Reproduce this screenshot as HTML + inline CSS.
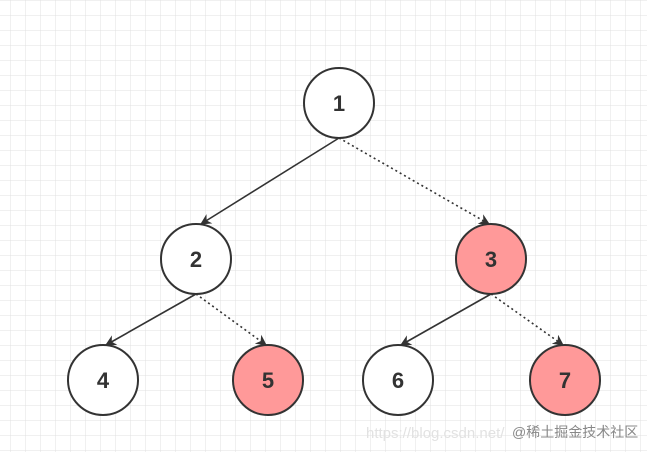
<!DOCTYPE html>
<html><head><meta charset="utf-8"><style>
html,body{margin:0;padding:0;background:#fff}
svg{display:block}
</style></head><body>
<svg width="647" height="452" viewBox="0 0 647 452" xmlns="http://www.w3.org/2000/svg">
<defs>
<pattern id="g" width="15" height="15" patternUnits="userSpaceOnUse" x="10" y="0">
<path d="M0 0H15M0 0V15" fill="none" stroke="#e0e0e0" stroke-width="1"/>
</pattern>
<marker id="a" viewBox="0 0 10 10" refX="9" refY="5" markerWidth="13" markerHeight="11" markerUnits="userSpaceOnUse" orient="auto">
<path d="M0 0L10 5L0 10L3 5z" fill="#333"/>
</marker>
</defs>
<rect width="647" height="452" fill="url(#g)"/>
<g stroke="#333" stroke-width="1.6" fill="none">
<line x1="339" y1="138" x2="201" y2="224" marker-end="url(#a)"/>
<line x1="339" y1="138" x2="489" y2="224" stroke-dasharray="2,3" marker-end="url(#a)"/>
<line x1="196" y1="294" x2="106" y2="345" marker-end="url(#a)"/>
<line x1="196" y1="294" x2="266" y2="345" stroke-dasharray="2,3" marker-end="url(#a)"/>
<line x1="491" y1="294" x2="401" y2="345" marker-end="url(#a)"/>
<line x1="491" y1="294" x2="563" y2="345" stroke-dasharray="2,3" marker-end="url(#a)"/>
</g>
<g stroke="#333" stroke-width="2">
<circle cx="339" cy="103" r="35" fill="#fff"/>
<circle cx="196" cy="259" r="35" fill="#fff"/>
<circle cx="491" cy="259" r="35" fill="#ff9999"/>
<circle cx="103" cy="380" r="35" fill="#fff"/>
<circle cx="268" cy="380" r="35" fill="#ff9999"/>
<circle cx="398" cy="380" r="35" fill="#fff"/>
<circle cx="565" cy="380" r="35" fill="#ff9999"/>
</g>
<g font-family="Liberation Sans, sans-serif" font-weight="bold" font-size="22" fill="#333" text-anchor="middle">
<text x="339" y="111">1</text>
<text x="196" y="267">2</text>
<text x="491" y="267">3</text>
<text x="103" y="388">4</text>
<text x="268" y="388">5</text>
<text x="398" y="388">6</text>
<text x="565" y="388">7</text>
</g>
<text x="366" y="438" font-family="Liberation Sans, sans-serif" font-size="15" fill="#e2e2e2">https://blog.csdn.net/</text>
<text x="512" y="437" font-family="Liberation Sans, 'Noto Sans CJK SC', sans-serif" font-size="14" fill="#888">@稀土掘金技术社区</text>
</svg>
</body></html>
